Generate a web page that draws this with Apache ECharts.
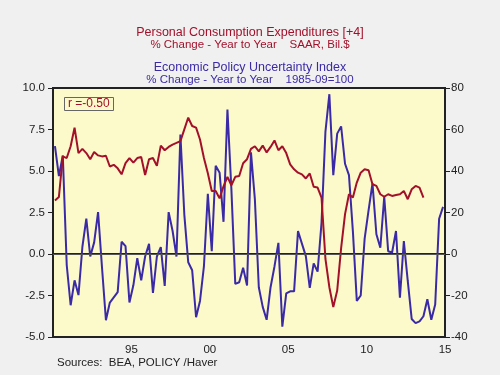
<html>
<head>
    <meta charset="utf-8">
    <title>PCE vs Policy Uncertainty</title>
    <script src="https://cdn.jsdelivr.net/npm/echarts@6/dist/echarts.min.js"></script>
    <style>
        html, body { margin: 0; padding: 0; background: #f0f0f0; }
        #chartmain { width: 500px; height: 375px; }
    </style>
</head>
<body>
    <div id="chartmain"></div>

    <script type="text/javascript">
        // quarterly data, first point 1990Q3
        var startYear = 1990, startQuarter = 3;

        // Personal Consumption Expenditures [+4], % change y/y
        var pce = [3.22, 3.43, 5.88, 5.78, 6.49, 7.61, 6.08, 6.33, 6.08, 5.71,
            6.14, 5.94, 5.88, 5.92, 5.27, 5.37, 5.16, 4.8, 5.47, 5.78,
            5.51, 5.78, 5.84, 4.76, 5.71, 5.78, 5.31, 6.53, 6.25, 6.45,
            6.59, 6.69, 6.8, 7.51, 8.22, 7.71, 7.61, 6.9, 5.78, 4.86,
            3.8, 3.8, 3.35, 4.08, 4.65, 4.14, 4.65, 4.7, 5.47, 5.71,
            6.33, 6.49, 6.18, 6.53, 6.12, 6.45, 6.84, 6.25, 6.49, 6.08,
            5.4, 5.1, 4.9, 4.8, 4.55, 4.85, 4.05, 4.0, 3.4, -0.3,
            -2.0, -3.2, -2.2, 0.35, 2.4, 3.6, 3.4, 4.3, 4.9, 5.1,
            5.05, 4.2, 4.1, 3.6, 3.45, 3.6, 3.5, 3.55, 3.6, 3.8,
            3.3, 3.9, 4.1, 4.0, 3.4];

        // Economic Policy Uncertainty Index, % change y/y
        var epu = [52, 37.5, 47.5, -5.3, -24.7, -12.7, -19.8, 3.5, 17, -1.2,
            5.6, 20.2, -6.5, -31.9, -23.4, -20.9, -18.4, 5.9, 3.8, -23.4,
            -15.1, -2, -12.7, -1.2, 4.9, -18.8, -1.2, 3.3, -15.4, 20.2,
            11.2, -1.2, 57.6, 19, -4, -7.8, -30.5, -22.6, -6, 29,
            1.3, 42.5, 39.2, 15.5, 69.6, 31.5, -14.4, -13.6, -6.6, -15.2,
            49, 26.3, -16, -25.5, -31.7, -16, -6, 5.4, -35, -19,
            -18, -18, 11, 5, -1, -16.3, -4.5, -8.5, 15, 59,
            77, 38, 58, 61.5, 43.5, 38, 11, -22.6, -20, 7.4,
            21, 34, 9.5, 3, 27.6, 1.3, 0.7, 11.1, -21, 6.2,
            -13, -31.3, -33.3, -32.5, -30, -21.8, -31.7, -24.3, 17, 22.7];

        var yearLabels = { 1995: '95', 2000: '00', 2005: '05', 2010: '10', 2015: '15' };

        var quarters = [];
        for (var i = 0; i < epu.length; i++) {
            var q = startQuarter - 1 + i;
            quarters.push((startYear + Math.floor(q / 4)) + 'Q' + (q % 4 + 1));
        }

        var font = 'Liberation Sans, Arial, sans-serif';
        var red = '#a3102a';
        var blue = '#3a2aa6';

        var myChart = echarts.init(document.getElementById('chartmain'));
        myChart.setOption({
            animation: false,
            backgroundColor: '#f0f0f0',
            title: [
                { text: 'Personal Consumption Expenditures [+4]', left: 'center', top: 26, padding: 0,
                  textStyle: { color: red, fontSize: 12.5, fontWeight: 'normal', fontFamily: font } },
                { text: '% Change - Year to Year    SAAR, Bil.$', left: 'center', top: 39, padding: 0,
                  textStyle: { color: red, fontSize: 11.5, fontWeight: 'normal', fontFamily: font } },
                { text: 'Economic Policy Uncertainty Index', left: 'center', top: 61, padding: 0,
                  textStyle: { color: blue, fontSize: 12.5, fontWeight: 'normal', fontFamily: font } },
                { text: '% Change - Year to Year    1985-09=100', left: 'center', top: 74, padding: 0,
                  textStyle: { color: blue, fontSize: 11.5, fontWeight: 'normal', fontFamily: font } },
                { text: 'r =-0.50', left: 64, top: 97, padding: [1, 4, 1, 4], borderWidth: 1, borderColor: '#666',
                  backgroundColor: '#fcfacb',
                  textStyle: { color: red, fontSize: 12, fontWeight: 'normal', fontFamily: font } },
                { text: 'Sources:  BEA, POLICY /Haver', left: 57, top: 357, padding: 0,
                  textStyle: { color: '#222', fontSize: 11.5, fontWeight: 'normal', fontFamily: font } }
            ],
            grid: {
                left: 53, right: 55, top: 88, bottom: 38,
                show: true, backgroundColor: '#fcfacb', borderColor: '#222', borderWidth: 2
            },
            xAxis: {
                type: 'category',
                data: quarters,
                boundaryGap: true,
                axisLine: { lineStyle: { color: '#222', width: 2 } },
                axisTick: {
                    length: 5, lineStyle: { color: '#333' },
                    interval: function (index, value) { return value.slice(-2) === 'Q1'; }
                },
                axisLabel: {
                    color: '#222', fontSize: 11.5, fontFamily: font, margin: 7, padding: [0, 0, 0, 4],
                    interval: function (index, value) {
                        return value.slice(-2) === 'Q2' && yearLabels[value.slice(0, 4)] !== undefined;
                    },
                    formatter: function (value) { return yearLabels[value.slice(0, 4)]; }
                },
                splitLine: { show: false }
            },
            yAxis: [
                {
                    type: 'value', min: -5, max: 10, interval: 2.5, position: 'left',
                    axisLine: { show: true, lineStyle: { color: '#222', width: 2 } },
                    axisTick: { show: true, length: 5, lineStyle: { color: '#222' } },
                    axisLabel: { color: '#222', fontSize: 11.5, fontFamily: font, margin: 8,
                        formatter: function (v) { return v.toFixed(1); } },
                    splitLine: { show: false }
                },
                {
                    type: 'value', min: -40, max: 80, interval: 20, position: 'right',
                    axisLine: { show: true, lineStyle: { color: '#222', width: 2 } },
                    axisTick: { show: true, length: 5, lineStyle: { color: '#222' } },
                    axisLabel: { color: '#222', fontSize: 11.5, fontFamily: font, margin: 6 },
                    splitLine: { show: false }
                }
            ],
            series: [
                {
                    name: 'Economic Policy Uncertainty Index',
                    type: 'line', yAxisIndex: 1, data: epu,
                    showSymbol: false,
                    lineStyle: { color: blue, width: 2 },
                    itemStyle: { color: blue }
                },
                {
                    name: 'Personal Consumption Expenditures',
                    type: 'line', yAxisIndex: 0, data: pce,
                    showSymbol: false,
                    lineStyle: { color: red, width: 2 },
                    itemStyle: { color: red },
                    markLine: {
                        silent: true, symbol: 'none', label: { show: false },
                        lineStyle: { color: '#555', width: 1, type: 'solid' },
                        data: [{ yAxis: 0 }]
                    }
                }
            ]
        });
    </script>
</body>
</html>
